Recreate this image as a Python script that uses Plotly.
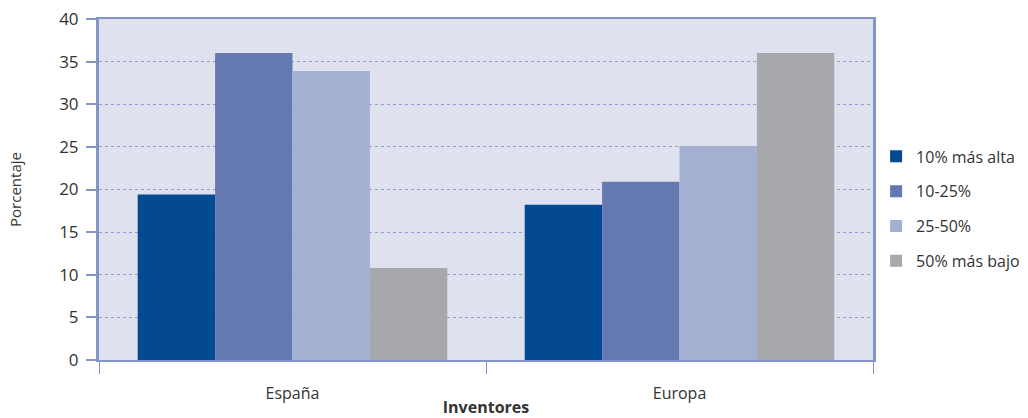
import plotly.graph_objects as go

categories = ["España", "Europa"]
series_names = ["10% más alta", "10-25%", "25-50%", "50% más bajo"]
top10 = [19.4, 18.2]
p10_25 = [36.0, 20.9]
p25_50 = [33.9, 25.1]
bottom50 = [10.8, 36.0]
colors = ["#034a92", "#6479b2", "#a4b0d2", "#a7a8ac"]
y_ticks = [0, 5, 10, 15, 20, 25, 30, 35, 40]

axis_color = "#8494c8"
font_family = "Open Sans, Noto Sans, sans-serif"

fig = go.Figure()
for i, (name, vals) in enumerate(zip(series_names, [top10, p10_25, p25_50, bottom50])):
    fig.add_trace(go.Bar(
        x=categories, y=vals, name=name,
        marker=dict(color=colors[i], line=dict(width=0)),
        legendgroup=f"g{i}",
    ))

fig.update_layout(
    width=1028, height=418,
    margin=dict(l=99, r=155, t=19, b=58, autoexpand=False),
    paper_bgcolor="white",
    plot_bgcolor="#dfe2ee",
    barmode="group", bargap=0.2, bargroupgap=0,
    font=dict(family=font_family, color="#333333", size=16),
    legend=dict(
        x=1.004, xanchor="left", y=0.443, yanchor="middle",
        font=dict(size=16, color="#333333"),
        tracegroupgap=11, traceorder="grouped",
        itemwidth=30,
        bgcolor="rgba(0,0,0,0)",
    ),
    xaxis=dict(
        showline=True, linecolor=axis_color, linewidth=2, mirror=True,
        tickson="boundaries", ticks="outside", ticklen=12, tickcolor=axis_color, tickwidth=1,
        tickfont=dict(size=16, color="#333333"),
        ticklabelstandoff=18,
        title=dict(text="<b>Inventores</b>", font=dict(size=16, color="#333333"), standoff=0),
    ),
    yaxis=dict(
        range=[0, 40], tickvals=y_ticks,
        showline=True, linecolor=axis_color, linewidth=3, mirror=True,
        ticks="outside", ticklen=10, tickcolor=axis_color, tickwidth=2,
        tickfont=dict(size=17, color="#333333"),
        ticklabelstandoff=4,
        showgrid=True, gridcolor="#8f9ccd", griddash="dot", gridwidth=1,
        zeroline=False,
        title=dict(text="Porcentaje", font=dict(size=15, color="#333333"), standoff=34),
    ),
)

fig.write_html("out.html")
